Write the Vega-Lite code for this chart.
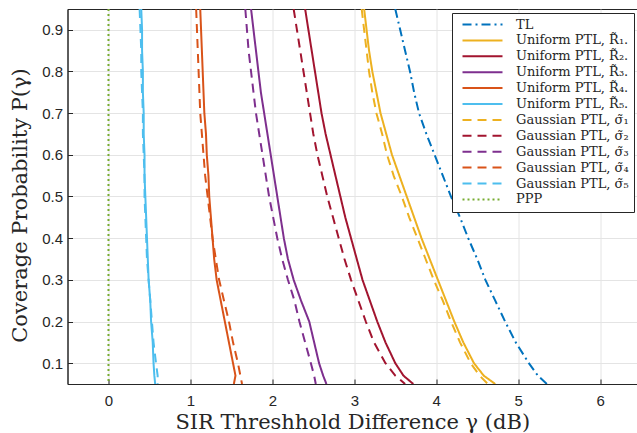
{
  "$schema": "https://vega.github.io/schema/vega-lite/v6.json",
  "autosize": {"type": "none"},
  "padding": {"left": 67.5, "top": 9, "right": 0, "bottom": 49},
  "width": 569.5,
  "height": 375,
  "background": "white",
  "config": {
    "view": {"stroke": "#262626", "strokeWidth": 1},
    "axis": {
      "labelFont": "Liberation Sans",
      "labelFontSize": 15,
      "labelColor": "#262626",
      "titleFont": "DejaVu Serif",
      "titleFontWeight": "normal",
      "titleFontSize": 21,
      "titleColor": "#262626",
      "domainColor": "#262626",
      "tickColor": "#262626",
      "gridColor": "#E4E4E4",
      "gridWidth": 1
    },
    "legend": {
      "title": null,
      "orient": "none",
      "legendX": 384.5,
      "legendY": 4,
      "symbolType": "M-4,0H4",
      "symbolSize": 100,
      "symbolStrokeWidth": 2,
      "symbolOffset": 19,
      "labelOffset": 27,
      "labelFont": "DejaVu Serif",
      "labelFontSize": 13,
      "labelColor": "#262626",
      "fillColor": "white",
      "strokeColor": "#262626",
      "padding": 5,
      "rowPadding": 1.9,
      "labelLimit": 300
    }
  },
  "data": {
    "values": [
      {"s": "TL", "g": 3.50, "p": 0.95}, {"s": "TL", "g": 3.56, "p": 0.90}, {"s": "TL", "g": 3.62, "p": 0.85}, {"s": "TL", "g": 3.68, "p": 0.80},
      {"s": "TL", "g": 3.73, "p": 0.75}, {"s": "TL", "g": 3.79, "p": 0.70}, {"s": "TL", "g": 3.88, "p": 0.65}, {"s": "TL", "g": 3.98, "p": 0.60},
      {"s": "TL", "g": 4.08, "p": 0.55}, {"s": "TL", "g": 4.18, "p": 0.50}, {"s": "TL", "g": 4.29, "p": 0.45}, {"s": "TL", "g": 4.39, "p": 0.40},
      {"s": "TL", "g": 4.50, "p": 0.35}, {"s": "TL", "g": 4.60, "p": 0.30}, {"s": "TL", "g": 4.72, "p": 0.25}, {"s": "TL", "g": 4.84, "p": 0.20},
      {"s": "TL", "g": 4.97, "p": 0.15}, {"s": "TL", "g": 5.13, "p": 0.10}, {"s": "TL", "g": 5.24, "p": 0.07}, {"s": "TL", "g": 5.35, "p": 0.05},

      {"s": "Uniform PTL, R\u0303\u2081.", "g": 3.12, "p": 0.95}, {"s": "Uniform PTL, R\u0303\u2081.", "g": 3.15, "p": 0.90},
      {"s": "Uniform PTL, R\u0303\u2081.", "g": 3.18, "p": 0.85}, {"s": "Uniform PTL, R\u0303\u2081.", "g": 3.22, "p": 0.80},
      {"s": "Uniform PTL, R\u0303\u2081.", "g": 3.27, "p": 0.75}, {"s": "Uniform PTL, R\u0303\u2081.", "g": 3.32, "p": 0.70},
      {"s": "Uniform PTL, R\u0303\u2081.", "g": 3.39, "p": 0.65}, {"s": "Uniform PTL, R\u0303\u2081.", "g": 3.46, "p": 0.60},
      {"s": "Uniform PTL, R\u0303\u2081.", "g": 3.55, "p": 0.55}, {"s": "Uniform PTL, R\u0303\u2081.", "g": 3.64, "p": 0.50},
      {"s": "Uniform PTL, R\u0303\u2081.", "g": 3.73, "p": 0.45}, {"s": "Uniform PTL, R\u0303\u2081.", "g": 3.82, "p": 0.40},
      {"s": "Uniform PTL, R\u0303\u2081.", "g": 3.92, "p": 0.35}, {"s": "Uniform PTL, R\u0303\u2081.", "g": 4.02, "p": 0.30},
      {"s": "Uniform PTL, R\u0303\u2081.", "g": 4.12, "p": 0.25}, {"s": "Uniform PTL, R\u0303\u2081.", "g": 4.22, "p": 0.20},
      {"s": "Uniform PTL, R\u0303\u2081.", "g": 4.33, "p": 0.15}, {"s": "Uniform PTL, R\u0303\u2081.", "g": 4.46, "p": 0.10},
      {"s": "Uniform PTL, R\u0303\u2081.", "g": 4.58, "p": 0.07}, {"s": "Uniform PTL, R\u0303\u2081.", "g": 4.72, "p": 0.05},

      {"s": "Uniform PTL, R\u0303\u2082.", "g": 2.40, "p": 0.95}, {"s": "Uniform PTL, R\u0303\u2082.", "g": 2.44, "p": 0.90},
      {"s": "Uniform PTL, R\u0303\u2082.", "g": 2.48, "p": 0.85}, {"s": "Uniform PTL, R\u0303\u2082.", "g": 2.52, "p": 0.80},
      {"s": "Uniform PTL, R\u0303\u2082.", "g": 2.56, "p": 0.75}, {"s": "Uniform PTL, R\u0303\u2082.", "g": 2.60, "p": 0.70},
      {"s": "Uniform PTL, R\u0303\u2082.", "g": 2.65, "p": 0.65}, {"s": "Uniform PTL, R\u0303\u2082.", "g": 2.71, "p": 0.60},
      {"s": "Uniform PTL, R\u0303\u2082.", "g": 2.77, "p": 0.55}, {"s": "Uniform PTL, R\u0303\u2082.", "g": 2.83, "p": 0.50},
      {"s": "Uniform PTL, R\u0303\u2082.", "g": 2.89, "p": 0.45}, {"s": "Uniform PTL, R\u0303\u2082.", "g": 2.96, "p": 0.40},
      {"s": "Uniform PTL, R\u0303\u2082.", "g": 3.03, "p": 0.35}, {"s": "Uniform PTL, R\u0303\u2082.", "g": 3.10, "p": 0.30},
      {"s": "Uniform PTL, R\u0303\u2082.", "g": 3.19, "p": 0.25}, {"s": "Uniform PTL, R\u0303\u2082.", "g": 3.28, "p": 0.20},
      {"s": "Uniform PTL, R\u0303\u2082.", "g": 3.38, "p": 0.15}, {"s": "Uniform PTL, R\u0303\u2082.", "g": 3.50, "p": 0.10},
      {"s": "Uniform PTL, R\u0303\u2082.", "g": 3.60, "p": 0.07}, {"s": "Uniform PTL, R\u0303\u2082.", "g": 3.72, "p": 0.05},

      {"s": "Uniform PTL, R\u0303\u2083.", "g": 1.74, "p": 0.95}, {"s": "Uniform PTL, R\u0303\u2083.", "g": 1.77, "p": 0.90},
      {"s": "Uniform PTL, R\u0303\u2083.", "g": 1.80, "p": 0.85}, {"s": "Uniform PTL, R\u0303\u2083.", "g": 1.83, "p": 0.80},
      {"s": "Uniform PTL, R\u0303\u2083.", "g": 1.86, "p": 0.75}, {"s": "Uniform PTL, R\u0303\u2083.", "g": 1.90, "p": 0.70},
      {"s": "Uniform PTL, R\u0303\u2083.", "g": 1.94, "p": 0.65}, {"s": "Uniform PTL, R\u0303\u2083.", "g": 1.98, "p": 0.60},
      {"s": "Uniform PTL, R\u0303\u2083.", "g": 2.02, "p": 0.55}, {"s": "Uniform PTL, R\u0303\u2083.", "g": 2.06, "p": 0.50},
      {"s": "Uniform PTL, R\u0303\u2083.", "g": 2.10, "p": 0.45}, {"s": "Uniform PTL, R\u0303\u2083.", "g": 2.14, "p": 0.40},
      {"s": "Uniform PTL, R\u0303\u2083.", "g": 2.19, "p": 0.35}, {"s": "Uniform PTL, R\u0303\u2083.", "g": 2.26, "p": 0.30},
      {"s": "Uniform PTL, R\u0303\u2083.", "g": 2.35, "p": 0.25}, {"s": "Uniform PTL, R\u0303\u2083.", "g": 2.45, "p": 0.20},
      {"s": "Uniform PTL, R\u0303\u2083.", "g": 2.51, "p": 0.15}, {"s": "Uniform PTL, R\u0303\u2083.", "g": 2.57, "p": 0.10},
      {"s": "Uniform PTL, R\u0303\u2083.", "g": 2.62, "p": 0.07}, {"s": "Uniform PTL, R\u0303\u2083.", "g": 2.66, "p": 0.05},

      {"s": "Uniform PTL, R\u0303\u2084.", "g": 1.12, "p": 0.95}, {"s": "Uniform PTL, R\u0303\u2084.", "g": 1.13, "p": 0.90},
      {"s": "Uniform PTL, R\u0303\u2084.", "g": 1.14, "p": 0.85}, {"s": "Uniform PTL, R\u0303\u2084.", "g": 1.15, "p": 0.80},
      {"s": "Uniform PTL, R\u0303\u2084.", "g": 1.16, "p": 0.75}, {"s": "Uniform PTL, R\u0303\u2084.", "g": 1.17, "p": 0.70},
      {"s": "Uniform PTL, R\u0303\u2084.", "g": 1.19, "p": 0.65}, {"s": "Uniform PTL, R\u0303\u2084.", "g": 1.20, "p": 0.60},
      {"s": "Uniform PTL, R\u0303\u2084.", "g": 1.22, "p": 0.55}, {"s": "Uniform PTL, R\u0303\u2084.", "g": 1.23, "p": 0.50},
      {"s": "Uniform PTL, R\u0303\u2084.", "g": 1.25, "p": 0.45}, {"s": "Uniform PTL, R\u0303\u2084.", "g": 1.27, "p": 0.40},
      {"s": "Uniform PTL, R\u0303\u2084.", "g": 1.29, "p": 0.35}, {"s": "Uniform PTL, R\u0303\u2084.", "g": 1.32, "p": 0.30},
      {"s": "Uniform PTL, R\u0303\u2084.", "g": 1.37, "p": 0.25}, {"s": "Uniform PTL, R\u0303\u2084.", "g": 1.42, "p": 0.20},
      {"s": "Uniform PTL, R\u0303\u2084.", "g": 1.47, "p": 0.15}, {"s": "Uniform PTL, R\u0303\u2084.", "g": 1.52, "p": 0.10},
      {"s": "Uniform PTL, R\u0303\u2084.", "g": 1.55, "p": 0.07}, {"s": "Uniform PTL, R\u0303\u2084.", "g": 1.53, "p": 0.05},

      {"s": "Uniform PTL, R\u0303\u2085.", "g": 0.40, "p": 0.95}, {"s": "Uniform PTL, R\u0303\u2085.", "g": 0.41, "p": 0.90},
      {"s": "Uniform PTL, R\u0303\u2085.", "g": 0.41, "p": 0.85}, {"s": "Uniform PTL, R\u0303\u2085.", "g": 0.42, "p": 0.80},
      {"s": "Uniform PTL, R\u0303\u2085.", "g": 0.42, "p": 0.75}, {"s": "Uniform PTL, R\u0303\u2085.", "g": 0.43, "p": 0.70},
      {"s": "Uniform PTL, R\u0303\u2085.", "g": 0.43, "p": 0.65}, {"s": "Uniform PTL, R\u0303\u2085.", "g": 0.44, "p": 0.60},
      {"s": "Uniform PTL, R\u0303\u2085.", "g": 0.44, "p": 0.55}, {"s": "Uniform PTL, R\u0303\u2085.", "g": 0.45, "p": 0.50},
      {"s": "Uniform PTL, R\u0303\u2085.", "g": 0.46, "p": 0.45}, {"s": "Uniform PTL, R\u0303\u2085.", "g": 0.47, "p": 0.40},
      {"s": "Uniform PTL, R\u0303\u2085.", "g": 0.48, "p": 0.35}, {"s": "Uniform PTL, R\u0303\u2085.", "g": 0.49, "p": 0.30},
      {"s": "Uniform PTL, R\u0303\u2085.", "g": 0.51, "p": 0.25}, {"s": "Uniform PTL, R\u0303\u2085.", "g": 0.52, "p": 0.20},
      {"s": "Uniform PTL, R\u0303\u2085.", "g": 0.54, "p": 0.15}, {"s": "Uniform PTL, R\u0303\u2085.", "g": 0.55, "p": 0.10},
      {"s": "Uniform PTL, R\u0303\u2085.", "g": 0.56, "p": 0.07}, {"s": "Uniform PTL, R\u0303\u2085.", "g": 0.57, "p": 0.05},

      {"s": "Gaussian PTL, \u03c3\u0303\u2081", "g": 3.09, "p": 0.95}, {"s": "Gaussian PTL, \u03c3\u0303\u2081", "g": 3.12, "p": 0.90},
      {"s": "Gaussian PTL, \u03c3\u0303\u2081", "g": 3.15, "p": 0.85}, {"s": "Gaussian PTL, \u03c3\u0303\u2081", "g": 3.18, "p": 0.80},
      {"s": "Gaussian PTL, \u03c3\u0303\u2081", "g": 3.22, "p": 0.75}, {"s": "Gaussian PTL, \u03c3\u0303\u2081", "g": 3.27, "p": 0.70},
      {"s": "Gaussian PTL, \u03c3\u0303\u2081", "g": 3.34, "p": 0.65}, {"s": "Gaussian PTL, \u03c3\u0303\u2081", "g": 3.40, "p": 0.60},
      {"s": "Gaussian PTL, \u03c3\u0303\u2081", "g": 3.48, "p": 0.55}, {"s": "Gaussian PTL, \u03c3\u0303\u2081", "g": 3.58, "p": 0.50},
      {"s": "Gaussian PTL, \u03c3\u0303\u2081", "g": 3.67, "p": 0.45}, {"s": "Gaussian PTL, \u03c3\u0303\u2081", "g": 3.77, "p": 0.40},
      {"s": "Gaussian PTL, \u03c3\u0303\u2081", "g": 3.87, "p": 0.35}, {"s": "Gaussian PTL, \u03c3\u0303\u2081", "g": 3.97, "p": 0.30},
      {"s": "Gaussian PTL, \u03c3\u0303\u2081", "g": 4.08, "p": 0.25}, {"s": "Gaussian PTL, \u03c3\u0303\u2081", "g": 4.18, "p": 0.20},
      {"s": "Gaussian PTL, \u03c3\u0303\u2081", "g": 4.29, "p": 0.15}, {"s": "Gaussian PTL, \u03c3\u0303\u2081", "g": 4.42, "p": 0.10},
      {"s": "Gaussian PTL, \u03c3\u0303\u2081", "g": 4.53, "p": 0.07}, {"s": "Gaussian PTL, \u03c3\u0303\u2081", "g": 4.63, "p": 0.05},

      {"s": "Gaussian PTL, \u03c3\u0303\u2082", "g": 2.26, "p": 0.95}, {"s": "Gaussian PTL, \u03c3\u0303\u2082", "g": 2.30, "p": 0.90},
      {"s": "Gaussian PTL, \u03c3\u0303\u2082", "g": 2.34, "p": 0.85}, {"s": "Gaussian PTL, \u03c3\u0303\u2082", "g": 2.38, "p": 0.80},
      {"s": "Gaussian PTL, \u03c3\u0303\u2082", "g": 2.42, "p": 0.75}, {"s": "Gaussian PTL, \u03c3\u0303\u2082", "g": 2.46, "p": 0.70},
      {"s": "Gaussian PTL, \u03c3\u0303\u2082", "g": 2.50, "p": 0.65}, {"s": "Gaussian PTL, \u03c3\u0303\u2082", "g": 2.55, "p": 0.60},
      {"s": "Gaussian PTL, \u03c3\u0303\u2082", "g": 2.61, "p": 0.55}, {"s": "Gaussian PTL, \u03c3\u0303\u2082", "g": 2.67, "p": 0.50},
      {"s": "Gaussian PTL, \u03c3\u0303\u2082", "g": 2.74, "p": 0.45}, {"s": "Gaussian PTL, \u03c3\u0303\u2082", "g": 2.81, "p": 0.40},
      {"s": "Gaussian PTL, \u03c3\u0303\u2082", "g": 2.88, "p": 0.35}, {"s": "Gaussian PTL, \u03c3\u0303\u2082", "g": 2.96, "p": 0.30},
      {"s": "Gaussian PTL, \u03c3\u0303\u2082", "g": 3.05, "p": 0.25}, {"s": "Gaussian PTL, \u03c3\u0303\u2082", "g": 3.14, "p": 0.20},
      {"s": "Gaussian PTL, \u03c3\u0303\u2082", "g": 3.24, "p": 0.15}, {"s": "Gaussian PTL, \u03c3\u0303\u2082", "g": 3.38, "p": 0.10},
      {"s": "Gaussian PTL, \u03c3\u0303\u2082", "g": 3.50, "p": 0.07}, {"s": "Gaussian PTL, \u03c3\u0303\u2082", "g": 3.62, "p": 0.05},

      {"s": "Gaussian PTL, \u03c3\u0303\u2083", "g": 1.67, "p": 0.95}, {"s": "Gaussian PTL, \u03c3\u0303\u2083", "g": 1.69, "p": 0.90},
      {"s": "Gaussian PTL, \u03c3\u0303\u2083", "g": 1.71, "p": 0.85}, {"s": "Gaussian PTL, \u03c3\u0303\u2083", "g": 1.74, "p": 0.80},
      {"s": "Gaussian PTL, \u03c3\u0303\u2083", "g": 1.77, "p": 0.75}, {"s": "Gaussian PTL, \u03c3\u0303\u2083", "g": 1.80, "p": 0.70},
      {"s": "Gaussian PTL, \u03c3\u0303\u2083", "g": 1.84, "p": 0.65}, {"s": "Gaussian PTL, \u03c3\u0303\u2083", "g": 1.88, "p": 0.60},
      {"s": "Gaussian PTL, \u03c3\u0303\u2083", "g": 1.92, "p": 0.55}, {"s": "Gaussian PTL, \u03c3\u0303\u2083", "g": 1.96, "p": 0.50},
      {"s": "Gaussian PTL, \u03c3\u0303\u2083", "g": 2.01, "p": 0.45}, {"s": "Gaussian PTL, \u03c3\u0303\u2083", "g": 2.06, "p": 0.40},
      {"s": "Gaussian PTL, \u03c3\u0303\u2083", "g": 2.12, "p": 0.35}, {"s": "Gaussian PTL, \u03c3\u0303\u2083", "g": 2.19, "p": 0.30},
      {"s": "Gaussian PTL, \u03c3\u0303\u2083", "g": 2.27, "p": 0.25}, {"s": "Gaussian PTL, \u03c3\u0303\u2083", "g": 2.33, "p": 0.20},
      {"s": "Gaussian PTL, \u03c3\u0303\u2083", "g": 2.40, "p": 0.15}, {"s": "Gaussian PTL, \u03c3\u0303\u2083", "g": 2.47, "p": 0.10},
      {"s": "Gaussian PTL, \u03c3\u0303\u2083", "g": 2.51, "p": 0.07}, {"s": "Gaussian PTL, \u03c3\u0303\u2083", "g": 2.53, "p": 0.05},

      {"s": "Gaussian PTL, \u03c3\u0303\u2084", "g": 1.07, "p": 0.95}, {"s": "Gaussian PTL, \u03c3\u0303\u2084", "g": 1.08, "p": 0.90},
      {"s": "Gaussian PTL, \u03c3\u0303\u2084", "g": 1.09, "p": 0.85}, {"s": "Gaussian PTL, \u03c3\u0303\u2084", "g": 1.10, "p": 0.80},
      {"s": "Gaussian PTL, \u03c3\u0303\u2084", "g": 1.11, "p": 0.75}, {"s": "Gaussian PTL, \u03c3\u0303\u2084", "g": 1.12, "p": 0.70},
      {"s": "Gaussian PTL, \u03c3\u0303\u2084", "g": 1.14, "p": 0.65}, {"s": "Gaussian PTL, \u03c3\u0303\u2084", "g": 1.16, "p": 0.60},
      {"s": "Gaussian PTL, \u03c3\u0303\u2084", "g": 1.18, "p": 0.55}, {"s": "Gaussian PTL, \u03c3\u0303\u2084", "g": 1.21, "p": 0.50},
      {"s": "Gaussian PTL, \u03c3\u0303\u2084", "g": 1.24, "p": 0.45}, {"s": "Gaussian PTL, \u03c3\u0303\u2084", "g": 1.27, "p": 0.40},
      {"s": "Gaussian PTL, \u03c3\u0303\u2084", "g": 1.31, "p": 0.35}, {"s": "Gaussian PTL, \u03c3\u0303\u2084", "g": 1.35, "p": 0.30},
      {"s": "Gaussian PTL, \u03c3\u0303\u2084", "g": 1.41, "p": 0.25}, {"s": "Gaussian PTL, \u03c3\u0303\u2084", "g": 1.47, "p": 0.20},
      {"s": "Gaussian PTL, \u03c3\u0303\u2084", "g": 1.52, "p": 0.15}, {"s": "Gaussian PTL, \u03c3\u0303\u2084", "g": 1.58, "p": 0.10},
      {"s": "Gaussian PTL, \u03c3\u0303\u2084", "g": 1.61, "p": 0.07}, {"s": "Gaussian PTL, \u03c3\u0303\u2084", "g": 1.63, "p": 0.05},

      {"s": "Gaussian PTL, \u03c3\u0303\u2085", "g": 0.38, "p": 0.95}, {"s": "Gaussian PTL, \u03c3\u0303\u2085", "g": 0.39, "p": 0.90},
      {"s": "Gaussian PTL, \u03c3\u0303\u2085", "g": 0.40, "p": 0.85}, {"s": "Gaussian PTL, \u03c3\u0303\u2085", "g": 0.40, "p": 0.80},
      {"s": "Gaussian PTL, \u03c3\u0303\u2085", "g": 0.41, "p": 0.75}, {"s": "Gaussian PTL, \u03c3\u0303\u2085", "g": 0.42, "p": 0.70},
      {"s": "Gaussian PTL, \u03c3\u0303\u2085", "g": 0.42, "p": 0.65}, {"s": "Gaussian PTL, \u03c3\u0303\u2085", "g": 0.43, "p": 0.60},
      {"s": "Gaussian PTL, \u03c3\u0303\u2085", "g": 0.44, "p": 0.55}, {"s": "Gaussian PTL, \u03c3\u0303\u2085", "g": 0.44, "p": 0.50},
      {"s": "Gaussian PTL, \u03c3\u0303\u2085", "g": 0.45, "p": 0.45}, {"s": "Gaussian PTL, \u03c3\u0303\u2085", "g": 0.46, "p": 0.40},
      {"s": "Gaussian PTL, \u03c3\u0303\u2085", "g": 0.47, "p": 0.35}, {"s": "Gaussian PTL, \u03c3\u0303\u2085", "g": 0.49, "p": 0.30},
      {"s": "Gaussian PTL, \u03c3\u0303\u2085", "g": 0.51, "p": 0.25}, {"s": "Gaussian PTL, \u03c3\u0303\u2085", "g": 0.53, "p": 0.20},
      {"s": "Gaussian PTL, \u03c3\u0303\u2085", "g": 0.55, "p": 0.15}, {"s": "Gaussian PTL, \u03c3\u0303\u2085", "g": 0.58, "p": 0.10},
      {"s": "Gaussian PTL, \u03c3\u0303\u2085", "g": 0.60, "p": 0.07}, {"s": "Gaussian PTL, \u03c3\u0303\u2085", "g": 0.60, "p": 0.05},

      {"s": "PPP", "g": 0, "p": 0.95}, {"s": "PPP", "g": 0, "p": 0.05}
    ]
  },
  "mark": {"type": "line", "strokeWidth": 2, "clip": true},
  "encoding": {
    "x": {
      "field": "g", "type": "quantitative",
      "scale": {"domain": [-0.5, 6.45], "nice": false, "zero": false},
      "axis": {"title": "SIR Threshhold Difference \u03b3 (dB)", "values": [0, 1, 2, 3, 4, 5, 6], "tickSize": -5, "labelPadding": 14, "titlePadding": 3}
    },
    "y": {
      "field": "p", "type": "quantitative",
      "scale": {"domain": [0.05, 0.95], "nice": false, "zero": false},
      "axis": {"title": "Coverage Probability P(\u03b3)", "values": [0.1, 0.2, 0.3, 0.4, 0.5, 0.6, 0.7, 0.8, 0.9], "format": ".1f", "tickSize": -5, "labelPadding": 10, "titlePadding": 11, "titleY": 196}
    },
    "order": {"field": "p", "type": "quantitative", "sort": "descending"},
    "color": {
      "field": "s", "type": "nominal",
      "scale": {
        "domain": ["TL", "Uniform PTL, R\u0303\u2081.", "Uniform PTL, R\u0303\u2082.", "Uniform PTL, R\u0303\u2083.", "Uniform PTL, R\u0303\u2084.", "Uniform PTL, R\u0303\u2085.", "Gaussian PTL, \u03c3\u0303\u2081", "Gaussian PTL, \u03c3\u0303\u2082", "Gaussian PTL, \u03c3\u0303\u2083", "Gaussian PTL, \u03c3\u0303\u2084", "Gaussian PTL, \u03c3\u0303\u2085", "PPP"],
        "range": ["#0072BD", "#EDB120", "#A2142F", "#7E2F8E", "#D95319", "#4DBEEE", "#EDB120", "#A2142F", "#7E2F8E", "#D95319", "#4DBEEE", "#77AC30"]
      },
      "legend": {}
    },
    "strokeDash": {
      "field": "s", "type": "nominal",
      "scale": {
        "domain": ["TL", "Uniform PTL, R\u0303\u2081.", "Uniform PTL, R\u0303\u2082.", "Uniform PTL, R\u0303\u2083.", "Uniform PTL, R\u0303\u2084.", "Uniform PTL, R\u0303\u2085.", "Gaussian PTL, \u03c3\u0303\u2081", "Gaussian PTL, \u03c3\u0303\u2082", "Gaussian PTL, \u03c3\u0303\u2083", "Gaussian PTL, \u03c3\u0303\u2084", "Gaussian PTL, \u03c3\u0303\u2085", "PPP"],
        "range": [[9, 4, 2, 4], [1, 0], [1, 0], [1, 0], [1, 0], [1, 0], [9, 6], [9, 6], [9, 6], [9, 6], [9, 6], [2, 3]]
      },
      "legend": {}
    }
  }
}
